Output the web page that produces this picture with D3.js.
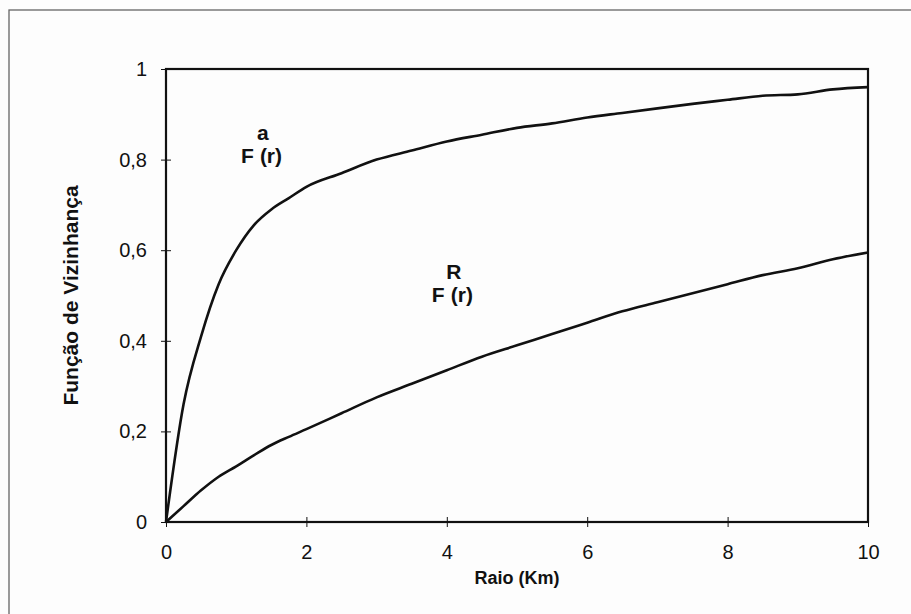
<!DOCTYPE html>
<meta charset="utf-8">
<style>
  body {
    margin: 0;
    background: #fdfdfd;
  }

  text {
    font-family: Arial, "Liberation Sans", sans-serif;
    fill: #111;
  }

  .axis path,
  .axis line {
    stroke: #111;
  }
</style>

<body>
  <div id="chart"></div>

  <script src="https://d3js.org/d3.v7.min.js"></script>
  <script>
    // values
    var raio = [0, 0.25, 0.5, 0.75, 1, 1.25, 1.5, 1.75, 2, 2.5, 3, 3.5, 4, 4.5, 5, 5.5, 6, 6.5, 7, 7.5, 8, 8.5, 9, 9.5, 10];
    var fA = [0, 0.26, 0.41, 0.525, 0.6, 0.655, 0.69, 0.715, 0.74, 0.77, 0.8, 0.82, 0.84, 0.855, 0.87, 0.88, 0.893, 0.903, 0.913, 0.923, 0.932, 0.941, 0.944, 0.955, 0.96];
    var fR = [0, 0.035, 0.07, 0.1, 0.123, 0.147, 0.17, 0.188, 0.205, 0.24, 0.275, 0.305, 0.335, 0.365, 0.39, 0.415, 0.44, 0.465, 0.485, 0.505, 0.525, 0.545, 0.56, 0.58, 0.595];
    var xTicks = [0, 2, 4, 6, 8, 10];
    var yTicks = [0, 0.2, 0.4, 0.6, 0.8, 1];

    var W = 911,
      H = 614;
    var margin = {
        top: 69,
        right: 43,
        bottom: 92,
        left: 166
      },
      width = W - margin.left - margin.right,
      height = H - margin.top - margin.bottom;

    var svg = d3.select("#chart")
      .append("svg")
      .attr("width", W)
      .attr("height", H);

    // outer frame of the figure (runs off the page right and bottom)
    svg.append("rect")
      .attr("x", 9)
      .attr("y", 10)
      .attr("width", W)
      .attr("height", H)
      .attr("fill", "none")
      .attr("stroke", "#666")
      .attr("stroke-width", 1.3);

    var g = svg.append("g")
      .attr("transform", "translate(" + margin.left + "," + margin.top + ")");

    var x = d3.scaleLinear().domain([0, 10]).range([0, width]);
    var y = d3.scaleLinear().domain([0, 1]).range([height, 0]);

    var fmt = function(d) {
      return String(d).replace(".", ",");
    };

    // x axis, ticks crossing the line
    g.append("g")
      .attr("class", "axis")
      .attr("transform", "translate(0," + height + ")")
      .call(d3.axisBottom(x).tickValues(xTicks).tickSize(5).tickPadding(18).tickFormat(fmt))
      .call(function(a) {
        a.select(".domain").remove();
        a.selectAll(".tick line").attr("y1", -5).attr("stroke-width", 1);
        a.selectAll("text").attr("font-size", 20).attr("fill", "#111");
      });

    // y axis
    g.append("g")
      .attr("class", "axis")
      .call(d3.axisLeft(y).tickValues(yTicks).tickSize(5).tickPadding(14).tickFormat(fmt))
      .call(function(a) {
        a.select(".domain").remove();
        a.selectAll(".tick line").attr("x1", 5).attr("stroke-width", 1);
        a.selectAll("text").attr("font-size", 20).attr("fill", "#111");
      });

    // plot frame
    g.append("rect")
      .attr("width", width)
      .attr("height", height)
      .attr("fill", "none")
      .attr("stroke", "#111")
      .attr("stroke-width", 2.2);

    var line = d3.line()
      .x(function(d, i) { return x(raio[i]); })
      .y(function(d) { return y(d); })
      .curve(d3.curveMonotoneX);

    [fA, fR].forEach(function(s) {
      g.append("path")
        .datum(s)
        .attr("d", line)
        .attr("fill", "none")
        .attr("stroke", "#111")
        .attr("stroke-width", 2.6);
    });

    // curve labels
    function curveLabel(sup, cx, cy) {
      var t = g.append("g").attr("transform", "translate(" + x(cx) + "," + y(cy) + ")");
      t.append("text")
        .attr("x", 0)
        .attr("y", -23)
        .attr("text-anchor", "middle")
        .attr("font-size", 21)
        .attr("font-weight", "bold")
        .text(sup);
      t.append("text")
        .attr("x", -22)
        .attr("y", 0)
        .attr("font-size", 21)
        .attr("font-weight", "bold")
        .text("F");
      t.append("text")
        .attr("x", -3)
        .attr("y", 0)
        .attr("font-size", 21)
        .attr("font-weight", "bold")
        .text("(r)");
    }
    curveLabel("a", 1.38, 0.792);
    curveLabel("R", 4.1, 0.485);

    // axis titles
    svg.append("text")
      .attr("x", margin.left + width / 2)
      .attr("y", 584)
      .attr("text-anchor", "middle")
      .attr("font-size", 18)
      .attr("font-weight", "bold")
      .text("Raio (Km)");

    svg.append("text")
      .attr("transform", "translate(78," + (margin.top + height / 2) + ") rotate(-90)")
      .attr("text-anchor", "middle")
      .attr("font-size", 21)
      .attr("font-weight", "bold")
      .text("Função de Vizinhança");
  </script>
</body>
